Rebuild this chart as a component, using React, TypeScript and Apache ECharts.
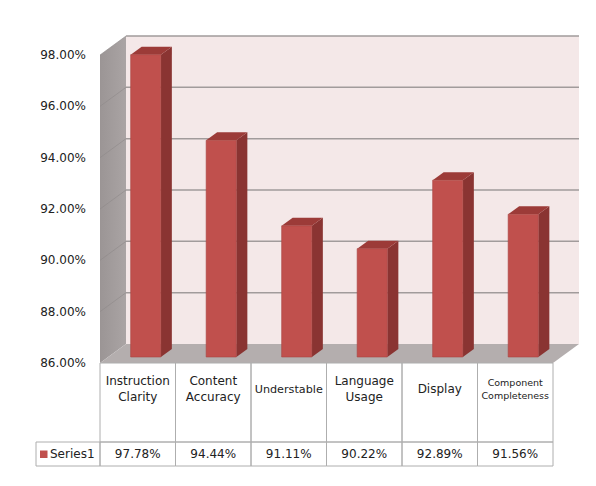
import React, { useEffect, useRef } from "react";
import * as echarts from "echarts";

// ---- data ----
const categories = [
  "Instruction\nClarity",
  "Content\nAccuracy",
  "Understable",
  "Language\nUsage",
  "Display",
  "Component\nCompleteness",
];
const series1 = [97.78, 94.44, 91.11, 90.22, 92.89, 91.56];
const seriesName = "Series1";
const yTicks = [86, 88, 90, 92, 94, 96, 98];

// ---- styles ----
const FONT = "DejaVu Sans";
const TEXT = "#222222";
const labelFontSize = [12, 12, 11.2, 12, 12, 9.5];
const labelLineHeight = [16, 16, 16, 16, 16, 12.5];
const DX = 26; // depth of the box (back wall offset)
const DY = -19;
const BAR_OX = 8; // bar front plane offset
const BAR_OY = -6;
const BAR_DX = 11; // bar depth
const BAR_DY = -8;
const TABLE_LABEL_H = 79;
const TABLE_ROW_H = 24;
const GRID_STROKE = "#a19b9b";
const TABLE_STROKE = "#aeaeae";

function fmt(v: number) {
  return v.toFixed(2) + "%";
}

export default function App() {
  const ref = useRef<HTMLDivElement>(null);

  useEffect(() => {
    if (!ref.current) return;
    const chart = echarts.init(ref.current, undefined, { renderer: "svg" });
    const yMin = yTicks[0];
    const yMax = yTicks[yTicks.length - 1];

    const option: any = {
      animation: false,
      backgroundColor: "#ffffff",
      grid: { left: 100, right: 43, top: 55, bottom: 123, containLabel: false },
      xAxis: {
        type: "category",
        data: categories,
        axisLine: { show: false },
        axisTick: { show: false },
        axisLabel: { show: false },
        splitLine: { show: false },
      },
      yAxis: {
        type: "value",
        min: yMin,
        max: yMax,
        interval: yTicks[1] - yTicks[0],
        axisLine: { show: false },
        axisTick: { show: false },
        splitLine: { show: false },
        axisLabel: {
          formatter: (v: number) => fmt(v),
          fontFamily: FONT,
          fontSize: 12,
          color: TEXT,
          margin: 14,
        },
      },
      series: [
        {
          type: "custom",
          name: "walls",
          clip: false,
          z: 1,
          silent: true,
          data: [[0, yMin]],
          renderItem: (params: any, api: any) => {
            const cs = params.coordSys;
            const x0 = cs.x;
            const y0 = cs.y;
            const w = cs.width;
            const h = cs.height;
            const children: any[] = [];
            // back wall
            children.push({
              type: "rect",
              shape: { x: x0 + DX, y: y0 + DY, width: w, height: h },
              style: { fill: "#f4e8e8" },
            });
            // side wall
            children.push({
              type: "polygon",
              shape: {
                points: [
                  [x0, y0],
                  [x0 + DX, y0 + DY],
                  [x0 + DX, y0 + h + DY],
                  [x0, y0 + h],
                ],
              },
              style: {
                fill: new echarts.graphic.LinearGradient(0, 0, 1, 0, [
                  { offset: 0, color: "#9b9595" },
                  { offset: 1, color: "#aaa4a4" },
                ]),
              },
            });
            // floor
            children.push({
              type: "polygon",
              shape: {
                points: [
                  [x0, y0 + h],
                  [x0 + DX, y0 + h + DY],
                  [x0 + DX + w, y0 + h + DY],
                  [x0 + w, y0 + h],
                ],
              },
              style: { fill: "#b4aeae" },
            });
            // gridlines on back wall + side wall
            yTicks.forEach((t) => {
              const y = api.coord([0, t])[1];
              if (t !== yMin) {
                children.push({
                  type: "line",
                  shape: { x1: x0 + DX, y1: y + DY, x2: x0 + DX + w, y2: y + DY },
                  style: { stroke: GRID_STROKE, lineWidth: 1.5 },
                });
                children.push({
                  type: "line",
                  shape: { x1: x0, y1: y, x2: x0 + DX, y2: y + DY },
                  style: { stroke: "#8e8888", lineWidth: 1, opacity: 0.6 },
                });
              }
            });
            return { type: "group", children };
          },
        },
        {
          type: "custom",
          name: "table",
          clip: false,
          z: 2,
          silent: true,
          data: series1.map((v, i) => [i, v]),
          renderItem: (params: any, api: any) => {
            const cs = params.coordSys;
            const i = api.value(0);
            const v = api.value(1);
            const band = api.size([1, 0])[0];
            const cx = api.coord([i, yMin])[0];
            const xl = cx - band / 2;
            const yt = cs.y + cs.height;
            const children: any[] = [];
            children.push({
              type: "rect",
              shape: { x: xl, y: yt, width: band, height: TABLE_LABEL_H },
              style: { fill: "none", stroke: TABLE_STROKE, lineWidth: 1 },
            });
            children.push({
              type: "rect",
              shape: { x: xl, y: yt + TABLE_LABEL_H, width: band, height: TABLE_ROW_H },
              style: { fill: "none", stroke: TABLE_STROKE, lineWidth: 1 },
            });
            children.push({
              type: "text",
              style: {
                text: categories[i],
                x: cx,
                y: yt + 26,
                align: "center",
                verticalAlign: "middle",
                fontFamily: FONT,
                fontSize: labelFontSize[i],
                lineHeight: labelLineHeight[i],
                fill: TEXT,
              },
            });
            children.push({
              type: "text",
              style: {
                text: fmt(v),
                x: cx,
                y: yt + TABLE_LABEL_H + TABLE_ROW_H / 2,
                align: "center",
                verticalAlign: "middle",
                fontFamily: FONT,
                fontSize: 12,
                fill: TEXT,
              },
            });
            if (i === 0) {
              const lx = 36;
              const ly = yt + TABLE_LABEL_H;
              children.push({
                type: "rect",
                shape: { x: lx, y: ly, width: xl - lx, height: TABLE_ROW_H },
                style: { fill: "none", stroke: TABLE_STROKE, lineWidth: 1 },
              });
              children.push({
                type: "rect",
                shape: { x: lx + 4, y: ly + 8.5, width: 7.5, height: 7.5 },
                style: { fill: "#c0504d" },
              });
              children.push({
                type: "text",
                style: {
                  text: seriesName,
                  x: lx + 14,
                  y: ly + TABLE_ROW_H / 2,
                  align: "left",
                  verticalAlign: "middle",
                  fontFamily: FONT,
                  fontSize: 12,
                  fill: TEXT,
                },
              });
            }
            return { type: "group", children };
          },
        },
        {
          type: "custom",
          name: seriesName,
          clip: false,
          z: 3,
          data: series1.map((v, i) => [i, v]),
          renderItem: (params: any, api: any) => {
            const i = api.value(0);
            const v = api.value(1);
            const top = api.coord([i, v]);
            const base = api.coord([i, yMin]);
            const band = api.size([1, 0])[0];
            const bw = band * 0.4;
            const xl = top[0] - bw / 2 + BAR_OX;
            const xr = xl + bw;
            const yt = top[1] + BAR_OY;
            const yb = base[1] + BAR_OY;
            return {
              type: "group",
              children: [
                {
                  type: "polygon",
                  shape: {
                    points: [
                      [xr, yt],
                      [xr + BAR_DX, yt + BAR_DY],
                      [xr + BAR_DX, yb + BAR_DY],
                      [xr, yb],
                    ],
                  },
                  style: { fill: "#8a3432" },
                },
                {
                  type: "polygon",
                  shape: {
                    points: [
                      [xl, yt],
                      [xl + BAR_DX, yt + BAR_DY],
                      [xr + BAR_DX, yt + BAR_DY],
                      [xr, yt],
                    ],
                  },
                  style: { fill: "#9c3b38" },
                },
                {
                  type: "rect",
                  shape: { x: xl, y: yt, width: bw, height: yb - yt },
                  style: { fill: "#c0504d", stroke: "#a84442", lineWidth: 0.6 },
                },
              ],
            };
          },
        },
      ],
    };

    chart.setOption(option);
    return () => chart.dispose();
  }, []);

  return (
    <div
      ref={ref}
      style={{ position: "absolute", left: 0, top: 0, width: 596, height: 486 }}
    />
  );
}
